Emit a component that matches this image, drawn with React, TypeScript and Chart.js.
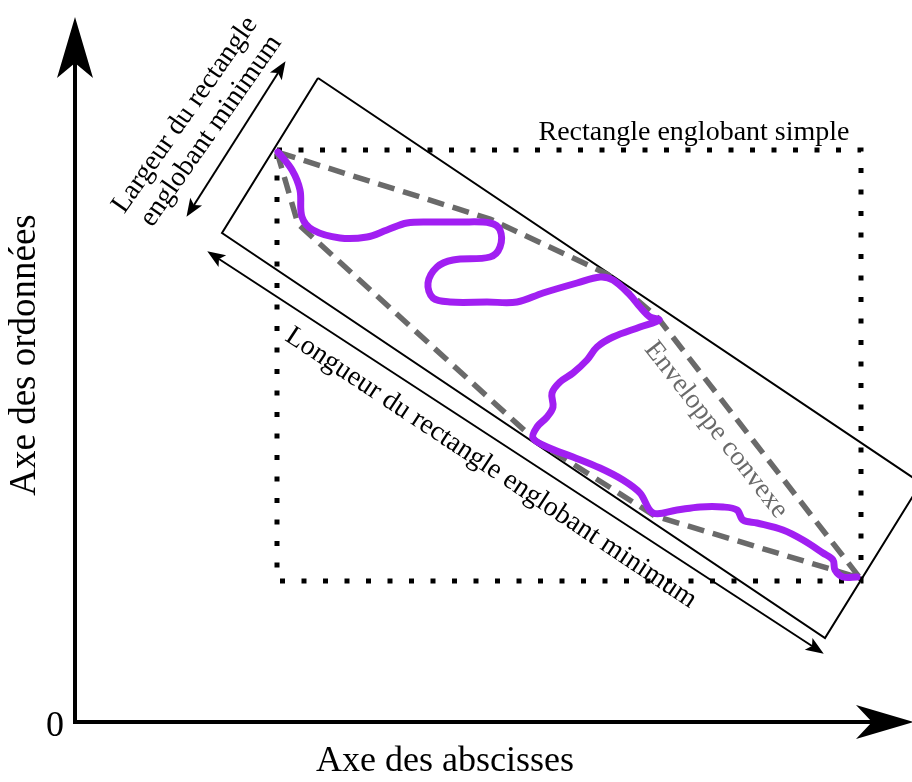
import React, { useEffect, useRef } from "react";
import { Chart, registerables } from "chart.js";

Chart.register(...registerables);

// Data units: origin at the corner of the two axes (label "0"), x to the right, y upward.
const xRange = [-75, 837];
const yRange = [-60, 722];

// Purple object outline
const curveX = [203, 217, 225, 227, 238, 265, 292, 312, 332, 358, 385, 415, 425, 425, 415, 378, 362, 353, 358, 375, 412, 442, 468, 502, 525, 538, 555, 565, 575, 584, 565, 538, 522, 512, 498, 485, 477, 478, 472, 462, 458, 472, 498, 525, 548, 565, 578, 602, 625, 648, 662, 668, 682, 708, 728, 748, 758, 760, 768, 782];
const curveY = [570, 552, 532, 505, 492, 484, 485, 492, 499, 500, 500, 499, 492, 475, 465, 462, 455, 439, 424, 420, 420, 420, 429, 439, 445, 442, 427, 415, 405, 402, 395, 385, 375, 362, 349, 340, 329, 315, 305, 295, 284, 275, 265, 254, 242, 229, 209, 212, 215, 215, 212, 202, 199, 192, 182, 169, 162, 152, 145, 145];

// Convex hull ("Enveloppe convexe")
const hullX = [202, 223, 460, 580, 785, 583, 532, 415, 202];
const hullY = [570, 498, 282, 206, 144, 404, 448, 503, 570];

// Axis-aligned bounding box ("Rectangle englobant simple")
const simpleRectX = [202, 786, 786, 202, 202];
const simpleRectY = [572, 572, 141, 141, 572];

// Minimum bounding rectangle
const minRectX = [243, 846, 750, 147, 243];
const minRectY = [644, 239, 84, 489, 644];

// Dimension arrows (ends at the arrow-head notches)
const widthArrowX = [119, 203];
const widthArrowY = [517, 649];
const lengthArrowX = [144, 737];
const lengthArrowY = [463, 76];

// Axes (ends at the arrow-head notches)
const yAxisX = [0, 0];
const yAxisY = [-2, 659];
const xAxisX = [-2, 797];
const xAxisY = [0, 0];

// Text labels
const labelTexts = [
  "0",
  "Axe des abscisses",
  "Axe des ordonnées",
  "Rectangle englobant simple",
  "Largeur du rectangle",
  "englobant minimum",
  "Longueur du rectangle englobant minimum",
  "Enveloppe convexe",
];
const labelX = [-20, 370, -50, 619, 110, 136, 416, 641];
const labelY = [-5, -40, 367, 589, 607, 591, 254, 292];

const SERIF = '"Liberation Serif", "Times New Roman", serif';
const labelStyles = [
  { size: 36, angle: 0, color: "#000" },
  { size: 36, angle: 0, color: "#000" },
  { size: 37, angle: -90, color: "#000" },
  { size: 28, angle: 0, color: "#000" },
  { size: 28, angle: -55, color: "#000" },
  { size: 28, angle: -55, color: "#000" },
  { size: 28, angle: 33.5, color: "#000" },
  { size: 27.5, angle: 52, color: "#6a6a6a" },
];

const arrowSpecs = [
  { xs: yAxisX, ys: yAxisY, start: false, end: true, len: 61, half: 18, notch: 15 },
  { xs: xAxisX, ys: xAxisY, start: false, end: true, len: 58, half: 17, notch: 16 },
  { xs: widthArrowX, ys: widthArrowY, start: true, end: true, len: 18, half: 7, notch: 4 },
  { xs: lengthArrowX, ys: lengthArrowY, start: true, end: true, len: 18, half: 7, notch: 4 },
];

function pts(xs: number[], ys: number[]) {
  return xs.map((x, i) => ({ x, y: ys[i] }));
}

function lineSet(xs: number[], ys: number[], style: any) {
  return {
    data: pts(xs, ys),
    showLine: true,
    pointRadius: 0,
    pointHoverRadius: 0,
    fill: false,
    clip: false as any,
    borderCapStyle: "butt",
    borderJoinStyle: "miter",
    tension: 0,
    ...style,
  };
}

function drawHead(ctx: CanvasRenderingContext2D, bx: number, by: number, fx: number, fy: number, len: number, half: number, notch: number) {
  let dx = bx - fx;
  let dy = by - fy;
  const d = Math.hypot(dx, dy) || 1;
  dx /= d;
  dy /= d;
  const tipX = bx + dx * (len - notch);
  const tipY = by + dy * (len - notch);
  const baseX = tipX - dx * len;
  const baseY = tipY - dy * len;
  const nx = -dy;
  const ny = dx;
  ctx.beginPath();
  ctx.moveTo(tipX, tipY);
  ctx.lineTo(baseX + nx * half, baseY + ny * half);
  ctx.lineTo(bx, by);
  ctx.lineTo(baseX - nx * half, baseY - ny * half);
  ctx.closePath();
  ctx.fill();
}

const overlay = {
  id: "overlay",
  afterDatasetsDraw(chart: any) {
    const ctx: CanvasRenderingContext2D = chart.ctx;
    const sx = chart.scales.x;
    const sy = chart.scales.y;
    ctx.save();
    ctx.fillStyle = "#000";
    arrowSpecs.forEach((a) => {
      const n = a.xs.length;
      const px = a.xs.map((v) => sx.getPixelForValue(v));
      const py = a.ys.map((v) => sy.getPixelForValue(v));
      if (a.end) drawHead(ctx, px[n - 1], py[n - 1], px[n - 2], py[n - 2], a.len, a.half, a.notch);
      if (a.start) drawHead(ctx, px[0], py[0], px[1], py[1], a.len, a.half, a.notch);
    });
    labelTexts.forEach((t, i) => {
      const st = labelStyles[i];
      ctx.save();
      ctx.translate(sx.getPixelForValue(labelX[i]), sy.getPixelForValue(labelY[i]));
      ctx.rotate((st.angle * Math.PI) / 180);
      ctx.font = `${st.size}px ${SERIF}`;
      ctx.fillStyle = st.color;
      ctx.textAlign = "center";
      ctx.textBaseline = "middle";
      ctx.fillText(t, 0, 0);
      ctx.restore();
    });
    ctx.restore();
  },
};

export default function App() {
  const ref = useRef<HTMLCanvasElement | null>(null);
  useEffect(() => {
    if (!ref.current) return;
    const chart = new Chart(ref.current, {
      type: "scatter",
      data: {
        datasets: [
          lineSet(curveX, curveY, { borderColor: "#a11ff2", borderWidth: 7, tension: 0.35, borderCapStyle: "round", borderJoinStyle: "round" }),
          lineSet(hullX, hullY, { borderColor: "#6a6a6a", borderWidth: 5.5, borderDash: [17, 9] }),
          lineSet(simpleRectX, simpleRectY, { borderColor: "#000", borderWidth: 5, borderDash: [5, 16.5] }),
          lineSet(minRectX, minRectY, { borderColor: "#000", borderWidth: 2 }),
          lineSet(widthArrowX, widthArrowY, { borderColor: "#000", borderWidth: 2 }),
          lineSet(lengthArrowX, lengthArrowY, { borderColor: "#000", borderWidth: 2 }),
          lineSet(yAxisX, yAxisY, { borderColor: "#000", borderWidth: 4 }),
          lineSet(xAxisX, xAxisY, { borderColor: "#000", borderWidth: 4 }),
        ] as any,
      },
      options: {
        animation: false,
        responsive: false,
        maintainAspectRatio: false,
        events: [],
        layout: { padding: 0 },
        plugins: {
          legend: { display: false },
          tooltip: { enabled: false },
          title: { display: false },
        },
        scales: {
          x: { type: "linear", min: xRange[0], max: xRange[1], display: false },
          y: { type: "linear", min: yRange[0], max: yRange[1], display: false },
        },
      },
      plugins: [overlay],
    });
    return () => chart.destroy();
  }, []);
  return (
    <div style={{ position: "fixed", left: 0, top: 0, width: 912, height: 782, background: "#fff" }}>
      <canvas ref={ref} width={912} height={782} style={{ display: "block", width: 912, height: 782 }} />
    </div>
  );
}
